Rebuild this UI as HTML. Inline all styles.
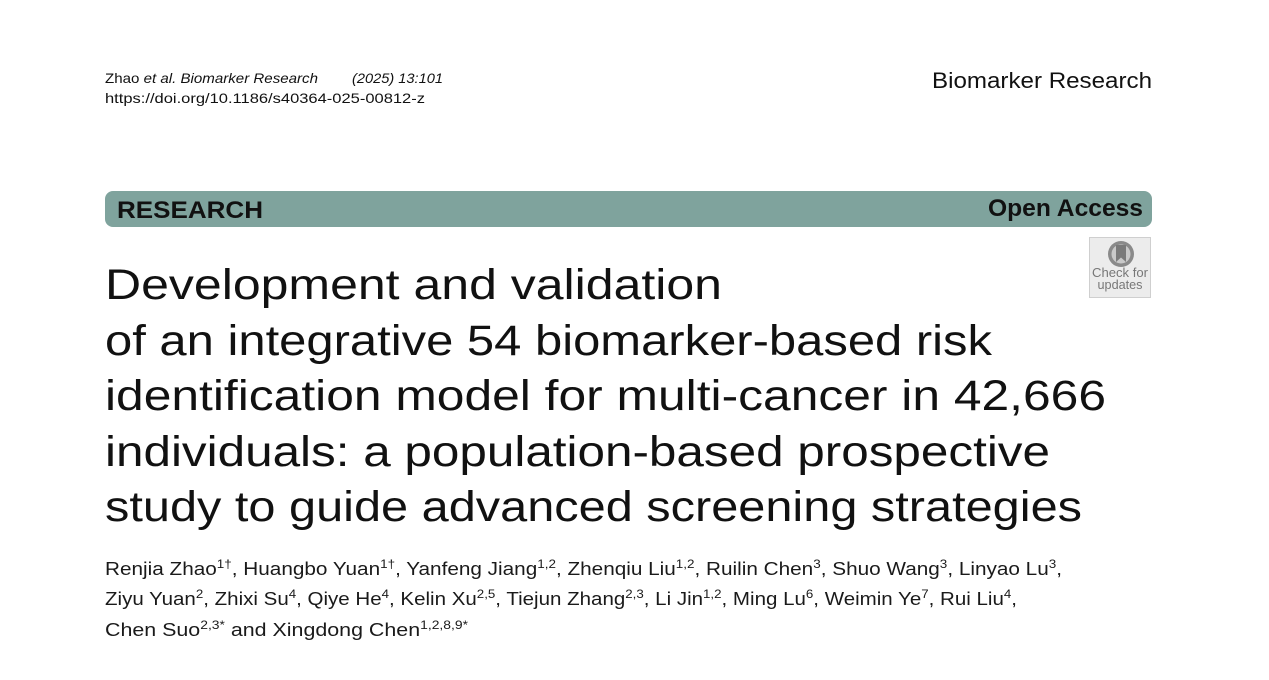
<!DOCTYPE html>
<html>
<head>
<meta charset="utf-8">
<style>
  html,body{margin:0;padding:0;background:#fff;}
  body{width:1269px;height:680px;overflow:hidden;}
  svg{display:block;}
  text{font-family:"Liberation Sans",Arial,sans-serif;}
</style>
</head>
<body>
<svg width="1269" height="680" viewBox="0 0 1269 680" xmlns="http://www.w3.org/2000/svg">
  <rect x="0" y="0" width="1269" height="680" fill="#ffffff"/>

  <!-- Header left -->
  <text x="105" y="83" font-size="14" fill="#111" textLength="213" lengthAdjust="spacingAndGlyphs">Zhao <tspan font-style="italic">et al. Biomarker Research</tspan></text>
  <text x="352" y="83" font-size="14" fill="#111" font-style="italic" textLength="91" lengthAdjust="spacingAndGlyphs">(2025) 13:101</text>
  <text x="105" y="103" font-size="14" fill="#111" textLength="320" lengthAdjust="spacingAndGlyphs">https://doi.org/10.1186/s40364-025-00812-z</text>

  <!-- Header right -->
  <text x="932" y="88" font-size="22" fill="#111" textLength="220" lengthAdjust="spacingAndGlyphs">Biomarker Research</text>

  <!-- Research bar -->
  <rect x="105" y="191" width="1047" height="36" rx="8" ry="8" fill="#7fa39d"/>
  <text x="117" y="218" font-size="24" font-weight="bold" fill="#111" textLength="146" lengthAdjust="spacingAndGlyphs">RESEARCH</text>
  <text x="988" y="216" font-size="24" font-weight="bold" fill="#111" textLength="155" lengthAdjust="spacingAndGlyphs">Open Access</text>

  <!-- Check for updates badge -->
  <rect x="1089.5" y="237.5" width="61" height="60" fill="#ececec" stroke="#cfcfcf" stroke-width="1"/>
  <circle cx="1121" cy="254" r="13" fill="#8a8a8a"/>
  <circle cx="1121" cy="254" r="9.5" fill="#c9c9c9"/>
  <path d="M1116 245 L1126 245 L1126 262 L1121 257.5 L1116 262 Z" fill="#7a7a7a"/>
  <text x="1120" y="277" font-size="12.5" fill="#777" text-anchor="middle" textLength="56" lengthAdjust="spacingAndGlyphs">Check for</text>
  <text x="1120" y="289" font-size="12.5" fill="#777" text-anchor="middle" textLength="45" lengthAdjust="spacingAndGlyphs">updates</text>

  <!-- Title -->
  <g font-size="43" fill="#111">
    <text x="105" y="299" textLength="617" lengthAdjust="spacingAndGlyphs">Development and validation</text>
    <text x="105" y="355" textLength="887" lengthAdjust="spacingAndGlyphs">of an integrative 54 biomarker-based risk</text>
    <text x="105" y="410" textLength="1001" lengthAdjust="spacingAndGlyphs">identification model for multi-cancer in 42,666</text>
    <text x="105" y="466" textLength="945" lengthAdjust="spacingAndGlyphs">individuals: a population-based prospective</text>
    <text x="105" y="521" textLength="977" lengthAdjust="spacingAndGlyphs">study to guide advanced screening strategies</text>
  </g>

  <!-- Authors -->
  <g font-size="18.5" fill="#1a1a1a">
    <text x="105" y="575" textLength="957" lengthAdjust="spacingAndGlyphs">Renjia Zhao<tspan font-size="12" dy="-7">1†</tspan><tspan dy="7">, Huangbo Yuan</tspan><tspan font-size="12" dy="-7">1†</tspan><tspan dy="7">, Yanfeng Jiang</tspan><tspan font-size="12" dy="-7">1,2</tspan><tspan dy="7">, Zhenqiu Liu</tspan><tspan font-size="12" dy="-7">1,2</tspan><tspan dy="7">, Ruilin Chen</tspan><tspan font-size="12" dy="-7">3</tspan><tspan dy="7">, Shuo Wang</tspan><tspan font-size="12" dy="-7">3</tspan><tspan dy="7">, Linyao Lu</tspan><tspan font-size="12" dy="-7">3</tspan><tspan dy="7">,</tspan></text>
    <text x="105" y="605" textLength="912" lengthAdjust="spacingAndGlyphs">Ziyu Yuan<tspan font-size="12" dy="-7">2</tspan><tspan dy="7">, Zhixi Su</tspan><tspan font-size="12" dy="-7">4</tspan><tspan dy="7">, Qiye He</tspan><tspan font-size="12" dy="-7">4</tspan><tspan dy="7">, Kelin Xu</tspan><tspan font-size="12" dy="-7">2,5</tspan><tspan dy="7">, Tiejun Zhang</tspan><tspan font-size="12" dy="-7">2,3</tspan><tspan dy="7">, Li Jin</tspan><tspan font-size="12" dy="-7">1,2</tspan><tspan dy="7">, Ming Lu</tspan><tspan font-size="12" dy="-7">6</tspan><tspan dy="7">, Weimin Ye</tspan><tspan font-size="12" dy="-7">7</tspan><tspan dy="7">, Rui Liu</tspan><tspan font-size="12" dy="-7">4</tspan><tspan dy="7">,</tspan></text>
    <text x="105" y="636" textLength="363" lengthAdjust="spacingAndGlyphs">Chen Suo<tspan font-size="12" dy="-7">2,3*</tspan><tspan dy="7"> and Xingdong Chen</tspan><tspan font-size="12" dy="-7">1,2,8,9*</tspan></text>
  </g>
</svg>
</body>
</html>
